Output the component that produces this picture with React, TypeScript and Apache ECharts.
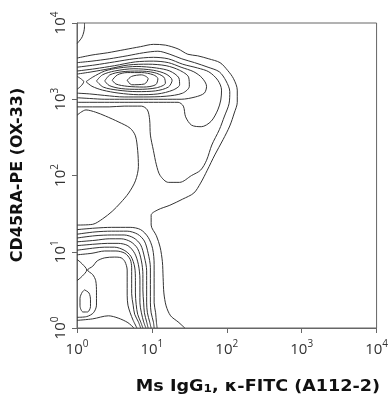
import { useEffect, useRef } from "react";
import * as echarts from "echarts";

// Axis decades (exponents of 10) and tick labels
const decadeTicks = [0, 1, 2, 3, 4];
const xTitle = ["Ms IgG", "1", ", κ-FITC (A112-2)"];
const yTitle = "CD45RA-PE (OX-33)";

// Contour lines, points as [log10 FITC, log10 PE]
const c1Corner = [[0.10, 4.0], [0.10, 3.95], [0.07, 3.82], [0.01, 3.74], [0.0, 3.73]];
const c1Outer = [
  [0.0, 3.54], [0.2, 3.58], [0.41, 3.61], [0.63, 3.65], [0.85, 3.69], [1.02, 3.72], [1.18, 3.71],
  [1.35, 3.66], [1.48, 3.59], [1.61, 3.57], [1.76, 3.53], [1.91, 3.48], [2.01, 3.38], [2.09, 3.27],
  [2.14, 3.12], [2.14, 2.96], [2.1, 2.82], [2.04, 2.65], [1.95, 2.47], [1.84, 2.27], [1.74, 2.07],
  [1.65, 1.9], [1.56, 1.77], [1.41, 1.69], [1.24, 1.61], [1.08, 1.55], [0.99, 1.48], [0.99, 1.35],
  [1.06, 1.21], [1.11, 1.06], [1.14, 0.87], [1.15, 0.66], [1.16, 0.46], [1.19, 0.29], [1.25, 0.16],
  [1.35, 0.08], [1.44, 0.0],
];
const c1Valley = [
  [0.0, 2.79], [0.12, 2.86], [0.25, 2.83], [0.38, 2.78], [0.56, 2.7], [0.71, 2.62], [0.78, 2.52],
  [0.81, 2.33], [0.82, 2.12], [0.78, 1.93], [0.69, 1.77], [0.58, 1.64], [0.47, 1.53], [0.34, 1.43],
  [0.21, 1.36], [0.0, 1.35],
];
const c2 = [
  [0.0, 3.48], [0.2, 3.5], [0.43, 3.53], [0.67, 3.57], [0.89, 3.61], [1.08, 3.63], [1.24, 3.59],
  [1.4, 3.53], [1.57, 3.48], [1.75, 3.42], [1.9, 3.36], [1.99, 3.24], [2.04, 3.1], [2.03, 2.94],
  [1.97, 2.78], [1.9, 2.6], [1.8, 2.4], [1.73, 2.2], [1.65, 2.07], [1.53, 2.0], [1.37, 1.91],
  [1.22, 1.91], [1.11, 2.0], [1.06, 2.14], [1.02, 2.33], [0.98, 2.53], [0.97, 2.73], [0.94, 2.86],
  [0.86, 2.91], [0.63, 2.91], [0.43, 2.9], [0.24, 2.9], [0.0, 2.9],
];
const c3 = [
  [0.0, 3.42], [0.24, 3.45], [0.5, 3.49], [0.76, 3.53], [1.02, 3.55], [1.22, 3.53], [1.41, 3.46],
  [1.61, 3.41], [1.76, 3.36], [1.88, 3.25], [1.93, 3.12], [1.92, 2.99], [1.88, 2.86], [1.79, 2.71],
  [1.66, 2.64], [1.53, 2.66], [1.45, 2.77], [1.42, 2.91], [1.35, 2.96], [1.15, 2.96], [0.89, 2.96],
  [0.63, 2.96], [0.37, 2.96], [0.17, 2.96], [0.0, 2.96],
];
const c4 = [
  [0.0, 3.37], [0.24, 3.4], [0.5, 3.44], [0.78, 3.49], [1.02, 3.5], [1.22, 3.48], [1.39, 3.42],
  [1.56, 3.36], [1.67, 3.28], [1.73, 3.17], [1.7, 3.08], [1.58, 3.03], [1.39, 3.0], [1.15, 3.0],
  [0.89, 3.0], [0.63, 3.0], [0.37, 3.0], [0.17, 3.01], [0.0, 3.02],
];
const c5 = [
  [0.0, 3.33], [0.2, 3.36], [0.43, 3.4], [0.69, 3.45], [0.95, 3.46], [1.19, 3.44], [1.37, 3.38],
  [1.49, 3.29], [1.5, 3.17], [1.41, 3.08], [1.19, 3.04], [0.89, 3.03], [0.63, 3.03], [0.37, 3.05],
  [0.17, 3.07], [0.0, 3.08],
];
const c6Left = [[0.0, 3.3], [0.05, 3.27], [0.09, 3.23], [0.05, 3.17], [0.0, 3.13]];
const c6 = [
  [0.12, 3.23], [0.21, 3.29], [0.37, 3.37], [0.56, 3.41], [0.8, 3.43], [1.06, 3.41], [1.24, 3.37],
  [1.36, 3.28], [1.37, 3.19], [1.28, 3.12], [1.08, 3.07], [0.82, 3.06], [0.56, 3.08], [0.34, 3.12],
  [0.2, 3.17], [0.12, 3.23],
];
const c7 = [
  [0.26, 3.24], [0.34, 3.32], [0.5, 3.37], [0.76, 3.4], [1.02, 3.38], [1.19, 3.33], [1.27, 3.25],
  [1.22, 3.16], [1.05, 3.11], [0.8, 3.1], [0.54, 3.12], [0.35, 3.16], [0.26, 3.24],
];
const c8 = [
  [0.37, 3.24], [0.44, 3.32], [0.6, 3.36], [0.82, 3.37], [1.03, 3.35], [1.16, 3.29], [1.18, 3.21],
  [1.06, 3.15], [0.82, 3.13], [0.59, 3.14], [0.43, 3.18], [0.37, 3.24],
];
const c9 = [
  [0.47, 3.25], [0.54, 3.32], [0.67, 3.35], [0.86, 3.35], [1.02, 3.32], [1.08, 3.27], [1.05, 3.19],
  [0.89, 3.16], [0.67, 3.17], [0.52, 3.2], [0.47, 3.25],
];
const c10 = [[0.67, 3.25], [0.73, 3.3], [0.86, 3.32], [0.95, 3.27], [0.9, 3.2], [0.73, 3.19], [0.67, 3.25]];

const d1 = [
  [0.0, 1.29], [0.24, 1.31], [0.46, 1.32], [0.71, 1.32], [0.85, 1.29], [0.95, 1.19], [1.01, 1.04],
  [1.03, 0.83], [1.03, 0.5], [1.03, 0.33], [1.05, 0.2], [1.06, 0.08], [1.07, 0.0],
];
const d2 = [
  [0.0, 1.23], [0.24, 1.26], [0.46, 1.27], [0.67, 1.27], [0.81, 1.23], [0.9, 1.14], [0.95, 0.98],
  [0.98, 0.79], [0.98, 0.5], [0.98, 0.33], [0.99, 0.2], [1.02, 0.08], [1.03, 0.0],
];
const d3 = [
  [0.0, 1.18], [0.24, 1.21], [0.46, 1.22], [0.63, 1.22], [0.76, 1.18], [0.85, 1.09], [0.9, 0.93],
  [0.93, 0.75], [0.93, 0.5], [0.93, 0.33], [0.94, 0.2], [0.97, 0.08], [0.99, 0.0],
];
const d4 = [
  [0.0, 1.13], [0.24, 1.15], [0.43, 1.17], [0.59, 1.17], [0.72, 1.13], [0.81, 1.04], [0.86, 0.88],
  [0.88, 0.7], [0.88, 0.5], [0.89, 0.33], [0.9, 0.2], [0.93, 0.08], [0.95, 0.0],
];
const d5 = [
  [0.0, 1.08], [0.24, 1.1], [0.41, 1.11], [0.55, 1.11], [0.68, 1.08], [0.77, 0.98], [0.82, 0.83],
  [0.84, 0.64], [0.84, 0.47], [0.84, 0.33], [0.86, 0.2], [0.89, 0.08], [0.92, 0.0],
];
const d6 = [
  [0.0, 1.02], [0.24, 1.05], [0.37, 1.06], [0.5, 1.06], [0.63, 1.02], [0.72, 0.94], [0.77, 0.8],
  [0.78, 0.62], [0.78, 0.46], [0.79, 0.31], [0.81, 0.18], [0.85, 0.08], [0.88, 0.0],
];
const d7 = [
  [0.0, 0.96], [0.2, 0.98], [0.37, 1.01], [0.52, 1.01], [0.64, 0.98], [0.71, 0.9], [0.73, 0.79],
  [0.73, 0.58], [0.73, 0.45], [0.75, 0.3], [0.77, 0.18], [0.82, 0.08], [0.85, 0.0],
];
const hole = [
  [0.0, 0.14], [0.13, 0.15], [0.22, 0.2], [0.26, 0.3], [0.26, 0.47], [0.25, 0.62], [0.21, 0.7],
  [0.14, 0.76], [0.21, 0.81], [0.27, 0.88], [0.37, 0.92], [0.5, 0.93], [0.59, 0.92], [0.64, 0.87],
  [0.67, 0.76], [0.67, 0.6], [0.67, 0.43], [0.68, 0.3], [0.71, 0.2], [0.75, 0.1], [0.8, 0.0],
];
const saddleArc = [[0.0, 0.9], [0.07, 0.84], [0.13, 0.76], [0.07, 0.68], [0.0, 0.62]];
const teardrop = [
  [0.1, 0.5], [0.16, 0.46], [0.18, 0.37], [0.18, 0.28], [0.14, 0.21], [0.08, 0.21], [0.04, 0.29],
  [0.04, 0.39], [0.07, 0.47], [0.1, 0.5],
];
const bottomArc = [[0.0, 0.1], [0.21, 0.12], [0.42, 0.16], [0.55, 0.13], [0.68, 0.07], [0.76, 0.0]];

const contours = [
  c1Corner, c1Outer, c1Valley, c2, c3, c4, c5, c6Left, c6, c7, c8, c9, c10,
  d1, d2, d3, d4, d5, d6, d7, hole, saddleArc, teardrop, bottomArc,
];

const FONT = "'Open Sans', 'DejaVu Sans', sans-serif";
const TITLE_FONT = "'DejaVu Sans', sans-serif";

export default function App() {
  const ref = useRef<HTMLDivElement>(null);
  useEffect(() => {
    const chart = echarts.init(ref.current!, null, { renderer: "svg" });
    const rich = {
      b: { fontSize: 15, fontFamily: FONT, color: "#333" },
      s: { fontSize: 10, fontFamily: FONT, color: "#333", padding: [0, 0, 9, 0] },
    };
    const axisCommon = {
      type: "value",
      min: 0,
      max: 4,
      interval: 1,
      axisLine: { show: true, lineStyle: { color: "#666", width: 1 } },
      axisTick: { show: true, length: 5, inside: false, lineStyle: { color: "#666" } },
      splitLine: { show: false },
    };
    const fmt = (v: number) => `{b|10}{s|${decadeTicks.indexOf(v) >= 0 ? v : ""}}`;
    chart.setOption({
      animation: false,
      grid: {
        left: 77, top: 23, width: 306, height: 305,
        show: true, borderColor: "#666", borderWidth: 1, backgroundColor: "transparent",
      },
      xAxis: { ...axisCommon, axisLabel: { margin: 10, formatter: fmt, rich } },
      yAxis: { ...axisCommon, axisLabel: { margin: 9, rotate: 90, formatter: fmt, rich } },
      graphic: [
        {
          type: "text",
          x: 258,
          y: 385,
          scaleX: 1.1,
          style: {
            text: `{t|${xTitle[0]}}{u|${xTitle[1]}}{t|${xTitle[2]}}`,
            align: "center",
            verticalAlign: "middle",
            rich: {
              t: { fontSize: 16, fontWeight: "bold", fontFamily: TITLE_FONT, fill: "#111" },
              u: { fontSize: 11, fontWeight: "bold", fontFamily: TITLE_FONT, fill: "#111", padding: [7, 0, 0, 0] },
            },
          },
        },
        {
          type: "text",
          x: 16,
          y: 175,
          rotation: Math.PI / 2,
          style: {
            text: yTitle,
            align: "center",
            verticalAlign: "middle",
            fontSize: 16,
            fontWeight: "bold",
            fontFamily: TITLE_FONT,
            fill: "#111",
          },
        },
      ],
      series: contours.map((pts, i) => ({
        type: "line",
        name: "contour" + i,
        data: pts,
        showSymbol: false,
        smooth: 0.3,
        silent: true,
        lineStyle: { color: "#333", width: 1 },
        z: 3,
      })),
    });
    return () => chart.dispose();
  }, []);
  return <div ref={ref} style={{ position: "fixed", left: 0, top: 0, width: 391, height: 396 }} />;
}
